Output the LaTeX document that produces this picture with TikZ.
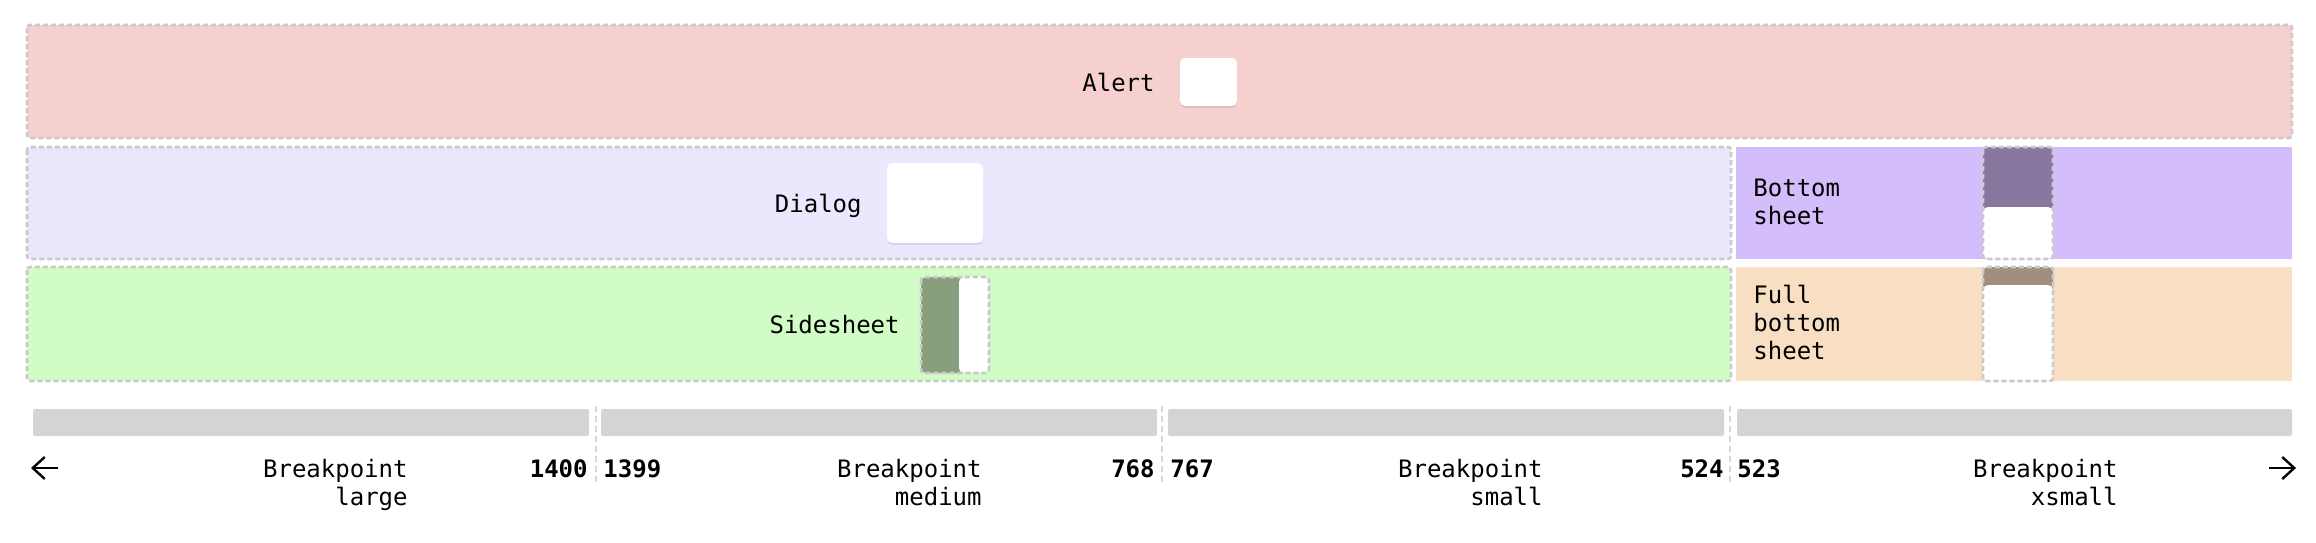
\documentclass[tikz,border=0pt]{standalone}
\usepackage{fontspec}
\setmonofont{DejaVu Sans Mono}
\usetikzlibrary{shadows,arrows.meta}

\begin{document}
\begin{tikzpicture}[x=0.5pt,y=-0.5pt,
    lbl/.style={font=\ttfamily\fontsize{12}{14}\selectfont, inner sep=0pt, text=black},
    num/.style={lbl, font=\ttfamily\bfseries\fontsize{12}{14}\selectfont},
    dashbox/.style={draw=dashgray, dash pattern=on 2.5pt off 1.5pt, line width=1.3pt, rounded corners=1.5pt},
    card/.style={fill=white, rounded corners=2.5pt, drop shadow={fill=black, opacity=0.12, shadow xshift=0pt, shadow yshift=-0.8pt}},
    bar/.style={fill=bargray, rounded corners=1pt},
    sep/.style={draw=sepgray, dash pattern=on 3pt off 2pt, line width=1pt},
    pointer/.style={line width=1.2pt, -{Straight Barb[length=6pt, width=11pt, line width=1.2pt]}}]
    % Define colors
    \definecolor{alertband}{HTML}{F5D0CF}
    \definecolor{dialogband}{HTML}{EBE8FE}
    \definecolor{sideband}{HTML}{D1FCC5}
    \definecolor{bottomband}{HTML}{D4BDFB}
    \definecolor{fullband}{HTML}{F8DFC4}
    \definecolor{sidescrim}{HTML}{879F7D}
    \definecolor{bottomscrim}{HTML}{88789F}
    \definecolor{fullscrim}{HTML}{A08F7F}
    \definecolor{dashgray}{HTML}{CACACA}
    \definecolor{sepgray}{HTML}{D8D8D8}
    \definecolor{bargray}{HTML}{D4D4D4}

    \useasboundingbox (0,0) rectangle (2316,542);

    % Component bands
    \draw[dashbox, fill=alertband] (27,25) rectangle (2292,138);
    \draw[dashbox, fill=dialogband] (27,147) rectangle (1731,259);
    \draw[dashbox, fill=sideband] (27,267) rectangle (1731,381);
    \fill[bottomband] (1736,147) rectangle (2292,259);
    \fill[fullband] (1736,267) rectangle (2292,381);

    % Alert
    \node[lbl, anchor=base east] (alert) at (1155,91) {Alert};
    \path[card] (1180,58) rectangle (1237,106);

    % Dialog
    \node[lbl, anchor=base east] (dialog) at (862,212) {Dialog};
    \path[card] (887,163) rectangle (983,243);

    % Sidesheet
    \node[lbl, anchor=base east] (sidesheet) at (900,333) {Sidesheet};
    \fill[sidescrim, rounded corners=2.5pt] (921,277) rectangle (989,373);
    \fill[white, rounded corners=2.5pt] (959,277) rectangle (989,373);
    \draw[dashbox] (921,277) rectangle (989,373);

    % Bottom sheet
    \node[lbl, anchor=north west, align=left] (bottomsheet) at (1753,179) {Bottom\\sheet};
    \fill[bottomscrim, rounded corners=2.5pt] (1983,147) rectangle (2053,259);
    \fill[white, rounded corners=2.5pt] (1983,207) rectangle (2053,259);
    \draw[dashbox] (1983,147) rectangle (2053,259);

    % Full bottom sheet
    \node[lbl, anchor=north west, align=left] (fullsheet) at (1753,285) {Full\\bottom\\sheet};
    \fill[fullscrim, rounded corners=2.5pt] (1983,267) rectangle (2053,381);
    \fill[white, rounded corners=2.5pt] (1983,285) rectangle (2053,381);
    \draw[dashbox] (1983,267) rectangle (2053,381);

    % Breakpoint bars and separators
    \fill[bar] (33,409) rectangle (589,436);
    \fill[bar] (601,409) rectangle (1157,436);
    \fill[bar] (1168,409) rectangle (1724,436);
    \fill[bar] (1737,409) rectangle (2292,436);
    \draw[sep] (596,406) -- (596,482);
    \draw[sep] (1162,406) -- (1162,482);
    \draw[sep] (1730,406) -- (1730,482);

    % Breakpoint labels
    \node[lbl, anchor=north east, align=right] (bplarge) at (408,459) {Breakpoint\\large};
    \node[lbl, anchor=north east, align=right] (bpmedium) at (982,459) {Breakpoint\\medium};
    \node[lbl, anchor=north east, align=right] (bpsmall) at (1543,459) {Breakpoint\\small};
    \node[lbl, anchor=north east, align=right] (bpxsmall) at (2118,459) {Breakpoint\\xsmall};

    % Breakpoint values
    \node[num, anchor=base east] (v1400) at (588,477) {1400};
    \node[num, anchor=base west] (v1399) at (603,477) {1399};
    \node[num, anchor=base east] (v768) at (1155,477) {768};
    \node[num, anchor=base west] (v767) at (1170,477) {767};
    \node[num, anchor=base east] (v524) at (1724,477) {524};
    \node[num, anchor=base west] (v523) at (1737,477) {523};

    % Direction arrows
    \coordinate (lstart) at (58,468);
    \coordinate (lend) at (31,468);
    \coordinate (rstart) at (2269,468);
    \coordinate (rend) at (2296,468);
    \draw[pointer] (lstart) -- (lend);
    \draw[pointer] (rstart) -- (rend);
\end{tikzpicture}
\end{document}
